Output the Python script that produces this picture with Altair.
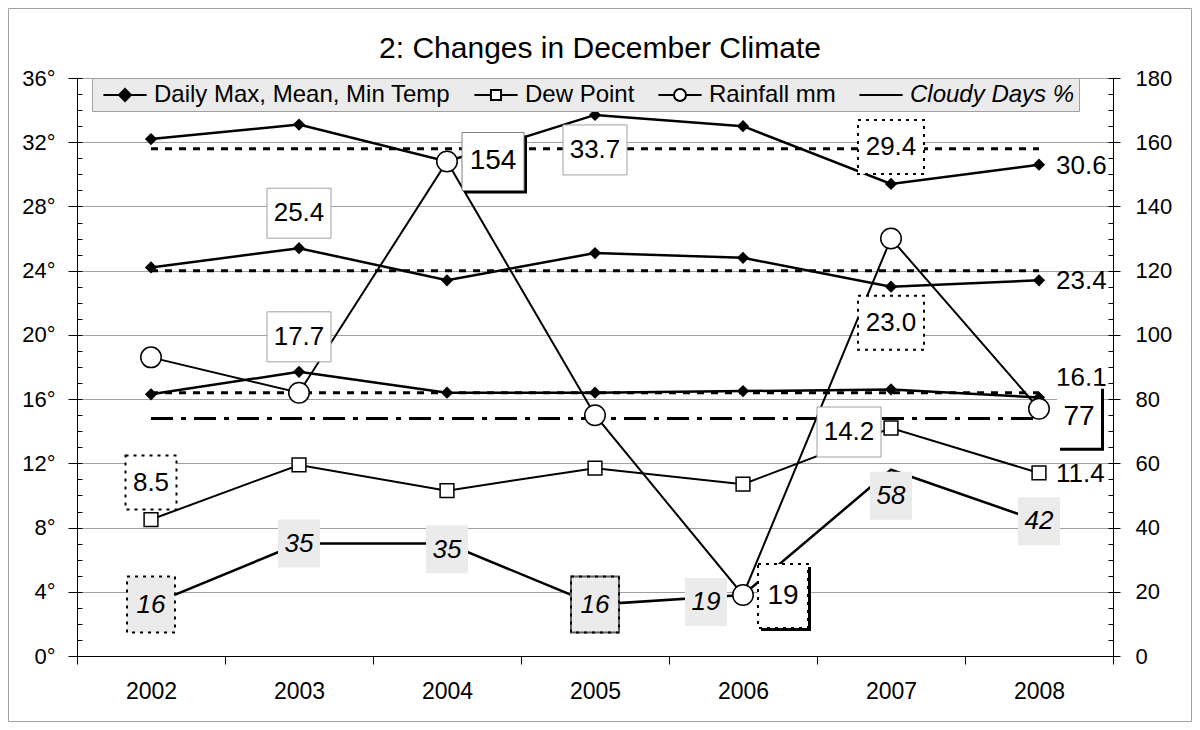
import altair as alt
import pandas as pd

# ---------------- data ----------------
years = [2002, 2003, 2004, 2005, 2006, 2007, 2008]
temp_max = [32.2, 33.1, 30.8, 33.7, 33.0, 29.4, 30.6]
temp_mean = [24.2, 25.4, 23.4, 25.1, 24.8, 23.0, 23.4]
temp_min = [16.3, 17.7, 16.4, 16.4, 16.5, 16.6, 16.1]
avg_max, avg_mean, avg_min = 31.6, 24.0, 16.4
dew_point = [8.5, 11.9, 10.3, 11.7, 10.7, 14.2, 11.4]
rainfall = [93, 82, 154, 75, 19, 130, 77]
rain_ref = 74
cloudy = [16, 35, 35, 16, 19, 58, 42]
legend_names = ["Daily Max, Mean, Min Temp", "Dew Point", "Rainfall mm", "Cloudy Days %"]
title_text = "2: Changes in December Climate"
left_ticks = list(range(0, 37, 4))
left_minor = list(range(0, 37, 1))
right_ticks = list(range(0, 181, 20))
right_minor = list(range(0, 181, 5))

# ---------------- layout / style ----------------
W, H = 1036, 578
FONT = "Liberation Sans"

xscale = alt.Scale(type="band", domain=years, paddingInner=0, paddingOuter=0)
xaxis = alt.Axis(title=None, labelFont=FONT, labelFontSize=23, labelColor="black",
                 labelAngle=0, labelPadding=16, tickSize=8, tickBand="extent",
                 tickColor="black", domainColor="black", grid=False)
X = alt.X("year:O", scale=xscale, axis=xaxis)


def Y(field, side, axis=None):
    dom = [0, 36] if side == "L" else [0, 180]
    return alt.Y(f"{field}:Q", scale=alt.Scale(domain=dom, nice=False, zero=False), axis=axis)


ax_left = alt.Axis(orient="left", values=left_ticks, labelExpr="datum.value + '°'", title=None,
                   tickSize=9, labelPadding=13, labelFont=FONT, labelFontSize=22,
                   labelColor="black", grid=True, gridColor="#a0a0a0", gridWidth=1,
                   domainColor="black", tickColor="black")
ax_left_minor = alt.Axis(orient="left", values=left_minor, labels=False, domain=False,
                         grid=False, tickSize=5, offset=-5, tickColor="black", title=None)
ax_right = alt.Axis(orient="right", values=right_ticks, title=None, tickSize=7, labelPadding=15,
                    labelFont=FONT, labelFontSize=22, labelColor="black", grid=False,
                    domainColor="black", tickColor="black")
ax_right_minor = alt.Axis(orient="right", values=right_minor, labels=False, domain=False,
                          grid=False, tickSize=5, offset=-5, tickColor="black", title=None)

# ---------------- tables ----------------
temps = pd.DataFrame({"year": years * 3,
                      "series": ["max"] * 7 + ["mean"] * 7 + ["min"] * 7,
                      "v": temp_max + temp_mean + temp_min})
avgs = pd.DataFrame({"year": [years[0], years[-1]] * 3,
                     "series": ["max", "max", "mean", "mean", "min", "min"],
                     "v": [avg_max] * 2 + [avg_mean] * 2 + [avg_min] * 2})
dew = pd.DataFrame({"year": years, "v": dew_point})
rain = pd.DataFrame({"year": years, "v": rainfall})
cloud = pd.DataFrame({"year": years, "v": cloudy})
ref = pd.DataFrame({"year": [years[0], years[-1]], "v": [rain_ref] * 2})

layers = []

# outer frame (decoration)
layers.append(alt.Chart(pd.DataFrame({"a": [0]})).mark_rect(
    fill="white", fillOpacity=0, stroke="#a0a0a0", strokeWidth=1).encode(
    x=alt.value(-68.5), x2=alt.value(W + 78.5), y=alt.value(-69.5), y2=alt.value(H + 65.5)))

# average dotted lines (carry the left axis)
layers.append(alt.Chart(avgs).mark_line(color="black", strokeWidth=3, strokeDash=[7, 7]).encode(
    x=X, y=Y("v", "L", ax_left), detail="series:N"))
# dash-dot reference
layers.append(alt.Chart(ref).mark_line(color="black", strokeWidth=3, strokeDash=[22, 8, 5, 8]).encode(
    x=X, y=Y("v", "R")))
# temperature lines
layers.append(alt.Chart(temps).mark_line(color="black", strokeWidth=2.5).encode(
    x=X, y=Y("v", "L", ax_left_minor), detail="series:N"))
layers.append(alt.Chart(temps).mark_point(shape="diamond", size=150, filled=True, fill="black",
                                          opacity=1).encode(x=X, y=Y("v", "L")))
# dew point
layers.append(alt.Chart(dew).mark_line(color="black", strokeWidth=2).encode(x=X, y=Y("v", "L")))
layers.append(alt.Chart(dew).mark_point(shape="square", size=190, filled=True, fill="white",
                                        stroke="black", strokeWidth=1.5, opacity=1).encode(
    x=X, y=Y("v", "L")))
# cloudy days
layers.append(alt.Chart(cloud).mark_line(color="black", strokeWidth=2.5).encode(
    x=X, y=Y("v", "R", ax_right_minor)))
# rainfall (carries right axis)
layers.append(alt.Chart(rain).mark_line(color="black", strokeWidth=2).encode(
    x=X, y=Y("v", "R", ax_right)))
layers.append(alt.Chart(rain).mark_point(shape="circle", size=420, filled=True, fill="white",
                                         stroke="black", strokeWidth=1.5, opacity=1).encode(
    x=X, y=Y("v", "R")))

# ---------------- labels ----------------
series_vals = {"max": temp_max, "mean": temp_mean, "min": temp_min,
               "dew": dew_point, "rain": rainfall, "cloud": cloudy}
side = {"max": "L", "mean": "L", "min": "L", "dew": "L", "rain": "R", "cloud": "R"}
fmt = {"max": "{:.1f}", "mean": "{:.1f}", "min": "{:.1f}", "dew": "{:.1f}",
       "rain": "{:d}", "cloud": "{:d}"}

GREY = "#ebebeb"
STYLES = {
    "plain": dict(w=64, h=50, fill="white", stroke="#a0a0a0", sw=1, fs=26),
    "dot": dict(w=66, h=54, fill="white", stroke="black", sw=2, dash=[3, 5], fs=26),
    "dot_s": dict(w=51, h=54, fill="white", stroke="black", sw=2, dash=[3, 5], fs=26),
    "text": dict(fs=26, align="left"),
    "shadow": dict(w=62, h=58, fill="white", stroke="#808080", sw=1, shadow=3, fs=28),
    "dot_shadow": dict(w=50, h=64, fill="white", stroke="black", sw=2, dash=[3, 5], shadow=3, fs=28),
    "bracket": dict(w=44, h=62, fill="white", shadow=3, fs=28),
    "grey": dict(w=42, h=48, fill=GREY, fs=26, italic=True),
    "grey_dot": dict(w=48, h=56, fill=GREY, stroke="black", sw=2, dash=[3, 5], fs=26, italic=True),
    "grey_dark": dict(w=48, h=56, fill=GREY, stroke="#606060", sw=2, over="black", fs=26, italic=True),
}

LABELS = [
    ("max", 2005, "plain", 0, 35), ("max", 2007, "dot", 0, -37), ("max", 2008, "text", 17, 1),
    ("mean", 2003, "plain", 0, -35), ("mean", 2007, "dot", 0, 36), ("mean", 2008, "text", 17, 1),
    ("min", 2003, "plain", 0, -35), ("min", 2008, "text", 17, -20),
    ("dew", 2002, "dot_s", 0, -37), ("dew", 2007, "plain", -42, 4), ("dew", 2008, "text", 17, 1),
    ("rain", 2004, "shadow", 46, 0), ("rain", 2006, "dot_shadow", 40, 1), ("rain", 2008, "bracket", 40, 8),
    ("cloud", 2002, "grey_dot", 0, 0), ("cloud", 2003, "grey", 0, 0), ("cloud", 2004, "grey", 0, 6),
    ("cloud", 2005, "grey_dark", 0, 0), ("cloud", 2006, "grey", -37, 7), ("cloud", 2007, "grey", 0, 26),
    ("cloud", 2008, "grey", 0, 0),
]


def box_path(w, h):
    return f"M{-w/2},{-h/2}H{w/2}V{h/2}H{-w/2}Z"


for s, yr, style, dx, dy in LABELS:
    st = STYLES[style]
    v = series_vals[s][years.index(yr)]
    df = pd.DataFrame({"year": [yr], "v": [v], "text": [fmt[s].format(v)]})
    base = alt.Chart(df).encode(x=X, y=Y("v", side[s]))
    if "w" in st:
        path = box_path(st["w"], st["h"])
        if st.get("shadow"):
            layers.append(base.mark_point(shape=path, size=4, filled=True, fill="black", strokeWidth=0,
                                          opacity=1, xOffset=dx + st["shadow"], yOffset=dy + st["shadow"]))
        kw = dict(shape=path, size=4, filled=True, fill=st["fill"], opacity=1, xOffset=dx, yOffset=dy)
        if st.get("stroke"):
            kw.update(stroke=st["stroke"], strokeWidth=st["sw"])
            if st.get("dash"):
                kw["strokeDash"] = st["dash"]
        else:
            kw["strokeWidth"] = 0
        layers.append(base.mark_point(**kw))
        if st.get("over"):
            layers.append(base.mark_point(shape=path, size=4, filled=False, stroke=st["over"],
                                          strokeWidth=2, strokeDash=[3, 5], opacity=1,
                                          xOffset=dx, yOffset=dy))
    layers.append(base.mark_text(align=st.get("align", "center"), baseline="middle", dx=dx, dy=dy,
                                 font=FONT, fontSize=st["fs"],
                                 fontStyle="italic" if st.get("italic") else "normal",
                                 color="black").encode(text="text:N"))

# ---------------- legend ----------------
paths = [
    "M-1.8,0H1.8M0,-0.5L0.5,0L0,0.5L-0.5,0Z",
    "M-1.8,0H-0.42M0.42,0H1.8M-0.42,-0.42H0.42V0.42H-0.42Z",
    "M-1.8,0H-0.5M0.5,0H1.8M-0.5,0A0.5,0.5,0,1,1,0.5,0A0.5,0.5,0,1,1,-0.5,0Z",
    "M-1.8,0H1.8",
]
fills = ["black", "white", "white", "transparent"]
LEG = alt.Legend(title=None, orient="none", legendX=15, legendY=0, direction="horizontal",
                 fillColor="#ebebeb", strokeColor="#a0a0a0", padding=4,
                 labelFont=FONT, labelFontSize=24, labelColor="black", labelLimit=400,
                 labelFontStyle=alt.ExprRef("test(/Cloudy/, '' + datum.label) ? 'italic' : 'normal'"),
                 symbolSize=576, symbolStrokeColor="black", symbolStrokeWidth=2,
                 symbolOffset=16, labelOffset=16, columnPadding=16)
leg_df = pd.DataFrame({"year": [years[0]] * 4, "series": legend_names, "v": [float("nan")] * 4})
layers.append(alt.Chart(leg_df).mark_point(filled=True, opacity=1, strokeWidth=2,
                                           size=576).encode(
    x=X, y=Y("v", "L"),
    shape=alt.Shape("series:N", scale=alt.Scale(domain=legend_names, range=paths), legend=LEG),
    fill=alt.Fill("series:N", scale=alt.Scale(domain=legend_names, range=fills), legend=LEG),
    stroke=alt.Stroke("series:N", scale=alt.Scale(domain=legend_names, range=["black"] * 4),
                      legend=LEG)))

chart = alt.layer(*layers).resolve_scale(y="independent").properties(
    width=W, height=H,
    autosize=alt.AutoSizeParams(type="none"),
    padding={"left": 69, "top": 70, "right": 79, "bottom": 66},
    title=alt.Title(title_text, font=FONT, fontSize=30, fontWeight="normal", color="black",
                    anchor="middle", frame="group", offset=0, dx=5, dy=56),
).configure_view(stroke=None).configure(background="white")

chart.save("out.html", embed_options={"renderer": "svg", "actions": False})
